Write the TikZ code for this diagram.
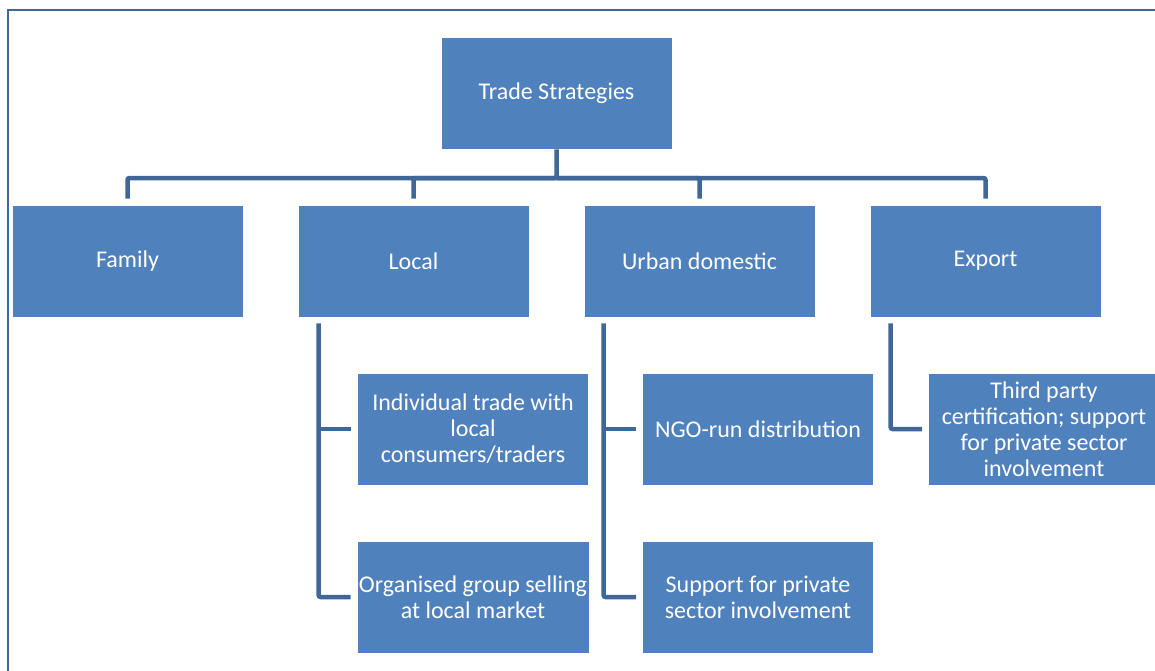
\documentclass[tikz,border=0pt]{standalone}
\usepackage{fontspec}
\setmainfont{Carlito}
\usetikzlibrary{positioning}
\definecolor{boxblue}{HTML}{4F81BD}
\definecolor{linkblue}{HTML}{3F6797}
\tikzset{
  stratbox/.style={rectangle, fill=boxblue, draw=white, line width=0.8pt, text=white,
    minimum width=231pt, minimum height=112pt, inner sep=2pt, align=center,
    font=\fontsize{24}{26}\selectfont},
  link/.style={draw=linkblue, line width=4.5pt, rounded corners=2pt},
}
\begin{document}
\begin{tikzpicture}[x=1pt, y=-1pt]
\useasboundingbox (0,0) rectangle (1155,671);
\clip (0,0) rectangle (1155,671);
\draw[linkblue, line width=1.5pt] (8,10) rectangle (1175,690);

% Nodes
\node[stratbox] (trade) at (556.5,93) {Trade Strategies};
\node[stratbox] (family) at (127.5,261) {Family};
\node[stratbox] (local) at (413.5,261) {Local};
\node[stratbox] (urban) at (699.5,261) {Urban domestic};
\node[stratbox] (export) at (985.5,261) {Export};
\node[stratbox] (indiv) at (473,429) {Individual trade with\\local\\consumers/traders};
\node[stratbox] (group) at (473,597) {Organised group selling\\at local market};
\node[stratbox] (ngo) at (758,429) {NGO-run distribution};
\node[stratbox] (private) at (758,597) {Support for private\\sector involvement};
\node[stratbox] (cert) at (1044,429) {Third party\\certification; support\\for private sector\\involvement};

% Top level connectors
\coordinate (bar) at (556.5,178);
\draw[link] (trade.south) -- (bar) -| ([yshift=6pt]family.north);
\draw[link] (bar) -| ([yshift=6pt]local.north);
\draw[link] (bar) -| ([yshift=6pt]urban.north);
\draw[link] (bar) -| ([yshift=6pt]export.north);

% Side branches
\coordinate (localstem) at ([xshift=21pt,yshift=-6pt]local.south west);
\coordinate (urbanstem) at ([xshift=20pt,yshift=-6pt]urban.south west);
\coordinate (exportstem) at ([xshift=21pt,yshift=-6pt]export.south west);
\draw[link] (localstem) |- ([xshift=-6pt]group.west);
\draw[link] (localstem |- indiv.west) -- ([xshift=-6pt]indiv.west);
\draw[link] (urbanstem) |- ([xshift=-6pt]private.west);
\draw[link] (urbanstem |- ngo.west) -- ([xshift=-6pt]ngo.west);
\draw[link] (exportstem) |- ([xshift=-6pt]cert.west);

\end{tikzpicture}
\end{document}
